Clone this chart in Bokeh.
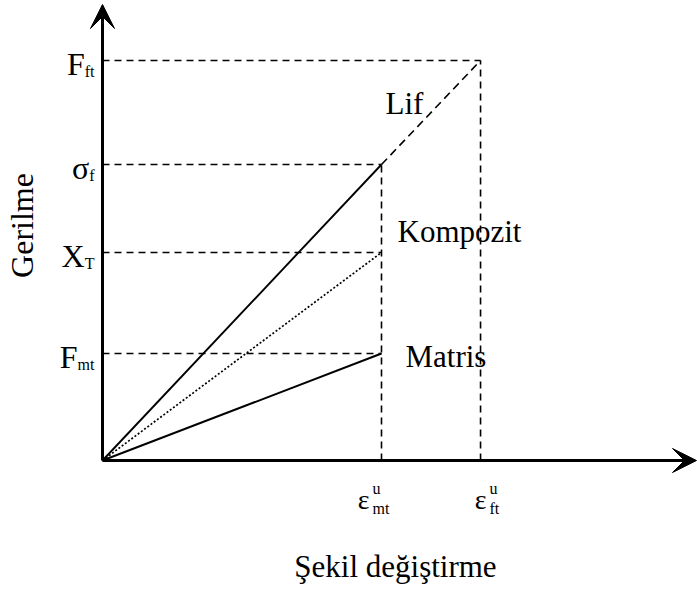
import numpy as np
from bokeh.plotting import figure
from bokeh.models import Range1d, Arrow, VeeHead
from bokeh.core.properties import value
from bokeh.embed import file_html
from bokeh.resources import INLINE

# ---------------- data ----------------
stress_names = ["F", "σ", "X", "F"]
stress_subs = ["ft", "f", "T", "mt"]
stress_values = [400, 296, 208, 107]          # F_ft, sigma_f, X_T, F_mt
strain_names = ["ε", "ε"]
strain_sups = ["u", "u"]
strain_subs = ["mt", "ft"]
strain_values = [1.0, 1.355]                  # eps_mt^u, eps_ft^u
curve_names = ["Lif", "Kompozit", "Matris"]
curve_end_stress = [296, 208, 107]            # stress of each curve at eps_mt^u
axis_titles = ["Gerilme", "Şekil değiştirme"]

F_ft, sigma_f, X_T, F_mt = stress_values
eps_mt, eps_ft = strain_values

# ---------------- layout ----------------
W, H = 697, 589
OX, OY = 102, 460           # origin in figure pixels
PX_X = 279.0                # pixels per strain unit
PX_Y = 1.0                  # pixels per stress unit
FONT = "Liberation Serif"
DY = -9                     # baseline correction for text

p = figure(width=W, height=H, output_backend="svg", toolbar_location=None,
           x_range=Range1d(-OX / PX_X, (W - OX) / PX_X),
           y_range=Range1d(-(H - OY) / PX_Y, OY / PX_Y),
           min_border=0, x_axis_location=None, y_axis_location=None)
p.grid.visible = False
p.outline_line_color = None
p.background_fill_color = "white"
p.border_fill_color = "white"

x_tip = (W - 1 - OX) / PX_X
y_tip = (OY - 4) / PX_Y

# axes with arrow heads
p.add_layout(Arrow(x_start=0, y_start=0, x_end=x_tip, y_end=0, line_width=3,
                   line_color="black",
                   end=VeeHead(size=24, fill_color="black", line_color="black")))
p.add_layout(Arrow(x_start=0, y_start=0, x_end=0, y_end=y_tip, line_width=3,
                   line_color="black",
                   end=VeeHead(size=24, fill_color="black", line_color="black")))

# guide lines (dashed)
h_ends = [eps_ft, eps_mt, eps_mt, eps_mt]
p.segment(x0=[0] * 4, y0=stress_values, x1=h_ends, y1=stress_values,
          line_color="black", line_width=1.6, line_dash="7 5")
p.segment(x0=strain_values, y0=[0, 0], x1=strain_values, y1=[sigma_f, F_ft],
          line_color="black", line_width=1.6, line_dash="7 5")

# curves
p.line([0, eps_mt], [0, curve_end_stress[0]], line_color="black", line_width=1.9)
p.line([eps_mt, eps_ft], [curve_end_stress[0], F_ft], line_color="black",
       line_width=1.6, line_dash="8 5")
p.line([0, eps_mt], [0, curve_end_stress[1]], line_color="black", line_width=1.7,
       line_dash="2 2")
p.line([0, eps_mt], [0, curve_end_stress[2]], line_color="black", line_width=1.9)

# stress tick labels (main letter + subscript, right-aligned group)
ADV = {"f": 0.333, "t": 0.278, "T": 0.611, "m": 0.778}
SUB_SIZE = 16
sub_w = [sum(ADV[c] for c in s) * SUB_SIZE for s in stress_subs]
dx = [-8 - w for w in sub_w]
p.text(x=[0] * 4, y=stress_values, text=stress_names, x_offset=dx, y_offset=12 + DY,
       text_align="right", text_baseline="alphabetic", text_font=value(FONT),
       text_font_size="32px", text_color="black")
p.text(x=[0] * 4, y=stress_values, text=stress_subs, x_offset=dx, y_offset=20 + DY,
       text_align="left", text_baseline="alphabetic", text_font=value(FONT),
       text_font_size=f"{SUB_SIZE}px", text_color="black")

# strain tick labels
eps_dx = [-12, 6]
p.text(x=strain_values, y=[0, 0], text=strain_names, x_offset=eps_dx, y_offset=48 + DY,
       text_align="right", text_baseline="alphabetic", text_font=value(FONT),
       text_font_size="28px", text_color="black")
p.text(x=strain_values, y=[0, 0], text=strain_sups, x_offset=[d + 3 for d in eps_dx],
       y_offset=37 + DY, text_align="left", text_baseline="alphabetic",
       text_font=value(FONT), text_font_size="16px", text_color="black")
p.text(x=strain_values, y=[0, 0], text=strain_subs, x_offset=[d + 3 for d in eps_dx],
       y_offset=57 + DY, text_align="left", text_baseline="alphabetic",
       text_font=value(FONT), text_font_size="16px", text_color="black")

# curve labels
p.text(x=[eps_mt] * 3, y=curve_end_stress, text=curve_names,
       x_offset=[4, 16, 24], y_offset=[-52 + DY, -12 + DY, 12 + DY],
       text_align="left", text_baseline="alphabetic", text_font=value(FONT),
       text_font_size="31px", text_color="black")

# axis titles
p.text(x=[0], y=[235], text=[axis_titles[0]], x_offset=-81, angle=np.pi / 2,
       text_align="center", text_baseline="middle", text_font=value(FONT),
       text_font_size="32px", text_color="black")
p.text(x=[1.05 * eps_mt], y=[0], text=[axis_titles[1]], y_offset=115 + DY,
       text_align="center", text_baseline="alphabetic", text_font=value(FONT),
       text_font_size="31px", text_color="black")

open("out.html", "w").write(file_html(p, INLINE))
